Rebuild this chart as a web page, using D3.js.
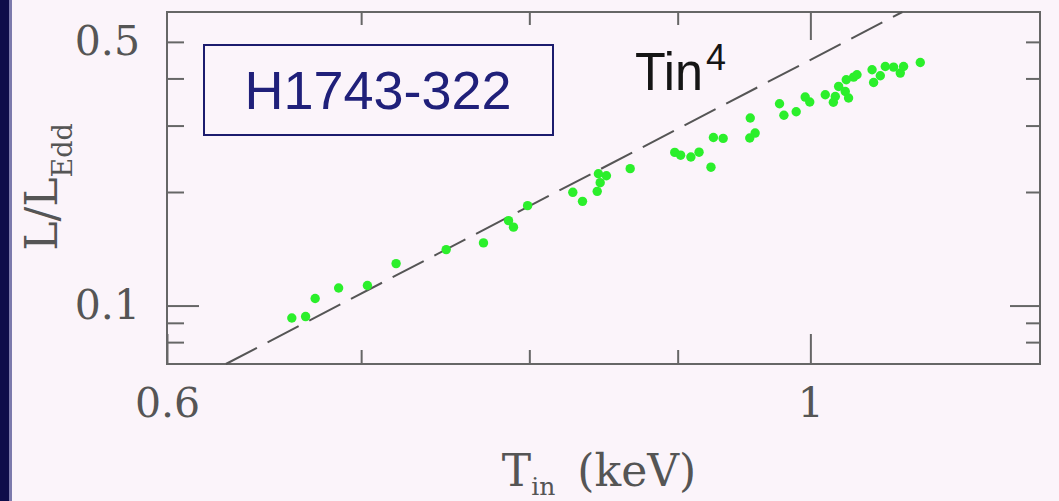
<!DOCTYPE html>
<html>
<head>
<meta charset="utf-8">
<script src="https://cdn.jsdelivr.net/npm/d3@7"></script>
<style>
  body { margin: 0; background: #fbf4fa; }
  svg { display: block; }
</style>
</head>
<body>
<div id="graph"></div>
<script>
// inner disk temperature (keV) and luminosity (L/LEdd)
var tin = [0.6625, 0.6698, 0.6749, 0.6876, 0.7035, 0.7197, 0.7489, 0.7714, 0.7869, 0.7900,
           0.7989, 0.8281, 0.8345, 0.8443, 0.8463, 0.8505, 0.8451, 0.8667, 0.8979, 0.9021,
           0.9095, 0.9154, 0.9241, 0.9259, 0.9331, 0.9530, 0.9571, 0.9534, 0.9758, 0.9792,
           0.9888, 0.9959, 0.9995, 1.0119, 1.0184, 1.0200, 1.0227, 1.0281, 1.0308, 1.0289,
           1.0349, 1.0377, 1.0502, 1.0515, 1.0571, 1.0613, 1.0683, 1.0740, 1.0768, 1.0912];
var lum = [0.0927, 0.0935, 0.1044, 0.1113, 0.1130, 0.1292, 0.1407, 0.1466, 0.1679, 0.1614,
           0.1840, 0.1996, 0.1889, 0.2008, 0.2117, 0.2209, 0.2236, 0.2306, 0.2547, 0.2504,
           0.2476, 0.2550, 0.2327, 0.2790, 0.2774, 0.2780, 0.2866, 0.3141, 0.3427, 0.3195,
           0.3264, 0.3570, 0.3465, 0.3620, 0.3459, 0.3583, 0.3809, 0.3694, 0.3549, 0.3967,
           0.4033, 0.4090, 0.4217, 0.3903, 0.4065, 0.4302, 0.4287, 0.4133, 0.4302, 0.4408];

// L ~ Tin^4 reference line, normalised to L at Tin = 1 keV
var tin4Norm = 0.448;

var xMinor = [0.7, 0.8, 0.9];
var xMajor = [0.6, 1];
var yMinor = [0.08, 0.09, 0.2, 0.3, 0.4, 0.5];
var yMajor = [0.1];
var yLabels = [0.1, 0.5];

var svg = d3.select('#graph').append("svg")
  .attr('width', 1059)
  .attr('height', 501);

var plot = {left: 167, right: 1040, top: 12, bottom: 364};

var x = d3.scaleLog().domain([0.6, 1.2]).range([plot.left, plot.right]);
var y = d3.scaleLog().domain([0.07, 0.6]).range([plot.bottom, plot.top]);

// dark slide edge on the left
svg.append("rect").attr("x", 0).attr("y", 0).attr("width", 12).attr("height", 501).attr("fill", "#7c7aac");
svg.append("rect").attr("x", 0).attr("y", 0).attr("width", 9).attr("height", 501).attr("fill", "#0e0c4a");

var fmt = function(d) { return d === 1 ? "1" : d3.format(".1f")(d); };
var tickFont = "'DejaVu Serif', serif";

function styleAxis(g) {
  g.select(".domain").remove();
  g.selectAll("line").attr("stroke", "#666").attr("stroke-width", 2);
  g.selectAll("text").attr("fill", "#555").style("font-family", tickFont).style("font-size", "41px");
}

// bottom axis
svg.append("g").attr("transform", "translate(0," + plot.bottom + ")")
  .call(d3.axisBottom(x).tickValues(xMinor).tickSize(-14).tickFormat(""))
  .call(styleAxis);
svg.append("g").attr("transform", "translate(0," + plot.bottom + ")")
  .call(d3.axisBottom(x).tickValues(xMajor).tickSize(-30).tickPadding(24).tickFormat(fmt))
  .call(styleAxis);

// top axis
svg.append("g").attr("transform", "translate(0," + plot.top + ")")
  .call(d3.axisTop(x).tickValues(xMinor).tickSize(-13).tickFormat(""))
  .call(styleAxis);
svg.append("g").attr("transform", "translate(0," + plot.top + ")")
  .call(d3.axisTop(x).tickValues([1]).tickSize(-28).tickFormat(""))
  .call(styleAxis);

// left axis
svg.append("g").attr("transform", "translate(" + plot.left + ",0)")
  .call(d3.axisLeft(y).tickValues(yMinor).tickSize(-17).tickFormat(""))
  .call(styleAxis);
svg.append("g").attr("transform", "translate(" + plot.left + ",0)")
  .call(d3.axisLeft(y).tickValues(yMajor).tickSize(-32).tickFormat(""))
  .call(styleAxis);
svg.append("g").attr("transform", "translate(" + plot.left + ",0)")
  .call(d3.axisLeft(y).tickValues(yLabels).tickSize(0).tickPadding(27).tickFormat(fmt))
  .call(styleAxis);

// right axis
svg.append("g").attr("transform", "translate(" + plot.right + ",0)")
  .call(d3.axisRight(y).tickValues(yMinor).tickSize(-14).tickFormat(""))
  .call(styleAxis);
svg.append("g").attr("transform", "translate(" + plot.right + ",0)")
  .call(d3.axisRight(y).tickValues(yMajor).tickSize(-30).tickFormat(""))
  .call(styleAxis);

// frame
svg.append("rect")
  .attr("x", plot.left).attr("y", plot.top)
  .attr("width", plot.right - plot.left).attr("height", plot.bottom - plot.top)
  .attr("fill", "none").attr("stroke", "#666").attr("stroke-width", 2);

// Tin^4 dashed line, from L = 0.07 to L = 0.6
var lineT = y.domain().map(function(l) { return Math.pow(l / tin4Norm, 0.25); });
var tinLine = d3.line()
  .x(function(d) { return x(d); })
  .y(function(d) { return y(tin4Norm * Math.pow(d, 4)); });
svg.append("path")
  .datum(lineT)
  .attr("d", tinLine)
  .attr("fill", "none")
  .attr("stroke", "#555")
  .attr("stroke-width", 2)
  .attr("stroke-dasharray", "35,12");

// the points
var pts = tin.map(function(t, i) { return {t: t, l: lum[i]}; });
svg.selectAll(".dot")
  .data(pts)
  .enter().append("circle")
  .attr("class", "dot")
  .attr("r", 4.7)
  .attr("cx", function(d) { return x(d.t); })
  .attr("cy", function(d) { return y(d.l); })
  .style("fill", "#2bef2b");

// source name box
svg.append("rect")
  .attr("x", 204).attr("y", 45).attr("width", 349).attr("height", 90)
  .attr("fill", "none").attr("stroke", "#1c1c6e").attr("stroke-width", 2);
svg.append("text")
  .attr("x", 378).attr("y", 109)
  .attr("text-anchor", "middle")
  .style("font-family", "'Liberation Sans', Arial, sans-serif")
  .style("font-size", "54px")
  .attr("fill", "#20207a")
  .text("H1743-322");

// Tin^4 label
var tinLab = svg.append("text")
  .attr("x", 635).attr("y", 90)
  .style("font-family", "'Liberation Sans', Arial, sans-serif")
  .style("font-size", "54px")
  .attr("fill", "#151515");
tinLab.append("tspan").attr("textLength", 68).attr("lengthAdjust", "spacingAndGlyphs").text("Tin");
svg.append("text")
  .attr("x", 706).attr("y", 70)
  .style("font-family", "'Liberation Sans', Arial, sans-serif")
  .style("font-size", "36px")
  .attr("fill", "#151515")
  .text("4");

// x axis title
var xt = svg.append("text")
  .attr("x", 599).attr("y", 486)
  .attr("text-anchor", "middle")
  .style("font-family", tickFont)
  .style("font-size", "44px")
  .attr("fill", "#555");
xt.append("tspan").text("T");
xt.append("tspan").attr("dy", 9).style("font-size", "25px").text("in");
xt.append("tspan").attr("dy", -9).attr("dx", 22).text("(keV)");

// y axis title
var yt = svg.append("text")
  .attr("transform", "translate(57,187) rotate(-90)")
  .attr("text-anchor", "middle")
  .style("font-family", tickFont)
  .style("font-size", "44px")
  .attr("fill", "#555");
yt.append("tspan").text("L/L");
yt.append("tspan").attr("dy", 15).style("font-size", "27px").text("Edd");
</script>
</body>
</html>
